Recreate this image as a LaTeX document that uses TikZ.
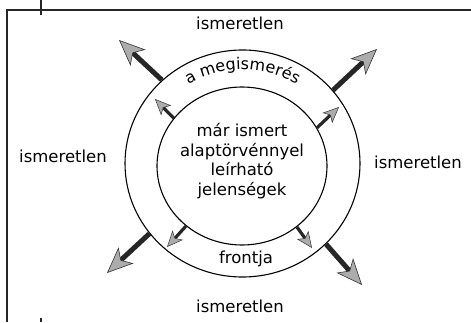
\documentclass[tikz,border=0pt]{standalone}
\usepackage{fontspec}
\setmainfont{DejaVu Sans}
\usetikzlibrary{shapes.geometric,arrows.meta,decorations.text}

\newcommand{\labelfont}{\fontsize{16.5}{19.5}\selectfont}
\newcommand{\arcfont}{\fontsize{16}{19.5}\selectfont}

\tikzset{
  frame/.style={line width=1.3pt, gray!30!black},
  ring/.style={ellipse, draw, line width=1.1pt, inner sep=0pt},
  label/.style={font=\labelfont, align=center},
  bigarrow/.style={line width=5pt, gray!30!black,
    -{Stealth[length=26pt, width=22pt, inset=7pt, line width=0.6pt,
      color=gray!40!black, fill=gray!65]}},
  smallarrow/.style={line width=3.2pt, gray!30!black,
    -{Stealth[length=16pt, width=14pt, inset=4pt, line width=0.5pt,
      color=gray!40!black, fill=gray!65]}}
}

\begin{document}
\begin{tikzpicture}[x=1pt, y=1pt]
        \useasboundingbox (0,0) rectangle (471,322);

        % Keret
        \draw[frame] (7,0) -- (7,312) -- (471,312);
        \draw[frame] (41,322) -- (41,307);
        \draw[frame] (41,0) -- (41,4);

        % Gyuruk
        \node[ring, minimum width=235pt, minimum height=227pt] (front) at (242.5,158.5) {};
        \node[ring, minimum width=170pt, minimum height=158pt] (known) at (242,156) {};

        % Szovegek
        \node[label] (knowntext) at (242,161) {már ismert\\alaptörvénnyel\\leírható\\jelenségek};
        \node[label] (frontja) at (246,63) {frontja};
        \path[decorate, decoration={text along path, text align=center,
            text={|\arcfont|a megismerés}}]
            (242.5,158.5) ++(160:101 and 94) arc[start angle=160, end angle=20, x radius=101, y radius=94];

        \node[label] (unknownN) at (240,298.5) {ismeretlen};
        \node[label] (unknownW) at (63,166) {ismeretlen};
        \node[label] (unknownE) at (418,160) {ismeretlen};
        \node[label] (unknownS) at (240,16) {ismeretlen};

        % Nyilak vegpontjai
        \coordinate (tipNW) at (119,282);
        \coordinate (tipNE) at (377,273);
        \coordinate (tipSW) at (107,49);
        \coordinate (tipSE) at (362,37);
        \coordinate (tipnw) at (155,223);
        \coordinate (tipne) at (339,215);
        \coordinate (tipsw) at (167,75);
        \coordinate (tipse) at (312,74);

        % Nagy nyilak
        \draw[bigarrow] (front.134) -- (tipNW);
        \draw[bigarrow] (front.39) -- (tipNE);
        \draw[bigarrow] (front.217) -- (tipSW);
        \draw[bigarrow] (front.316) -- (tipSE);

        % Kis nyilak
        \draw[smallarrow] (known.145) -- (tipnw);
        \draw[smallarrow] (known.27) -- (tipne);
        \draw[smallarrow] (known.227) -- (tipsw);
        \draw[smallarrow] (known.312) -- (tipse);
    \end{tikzpicture}
\end{document}
